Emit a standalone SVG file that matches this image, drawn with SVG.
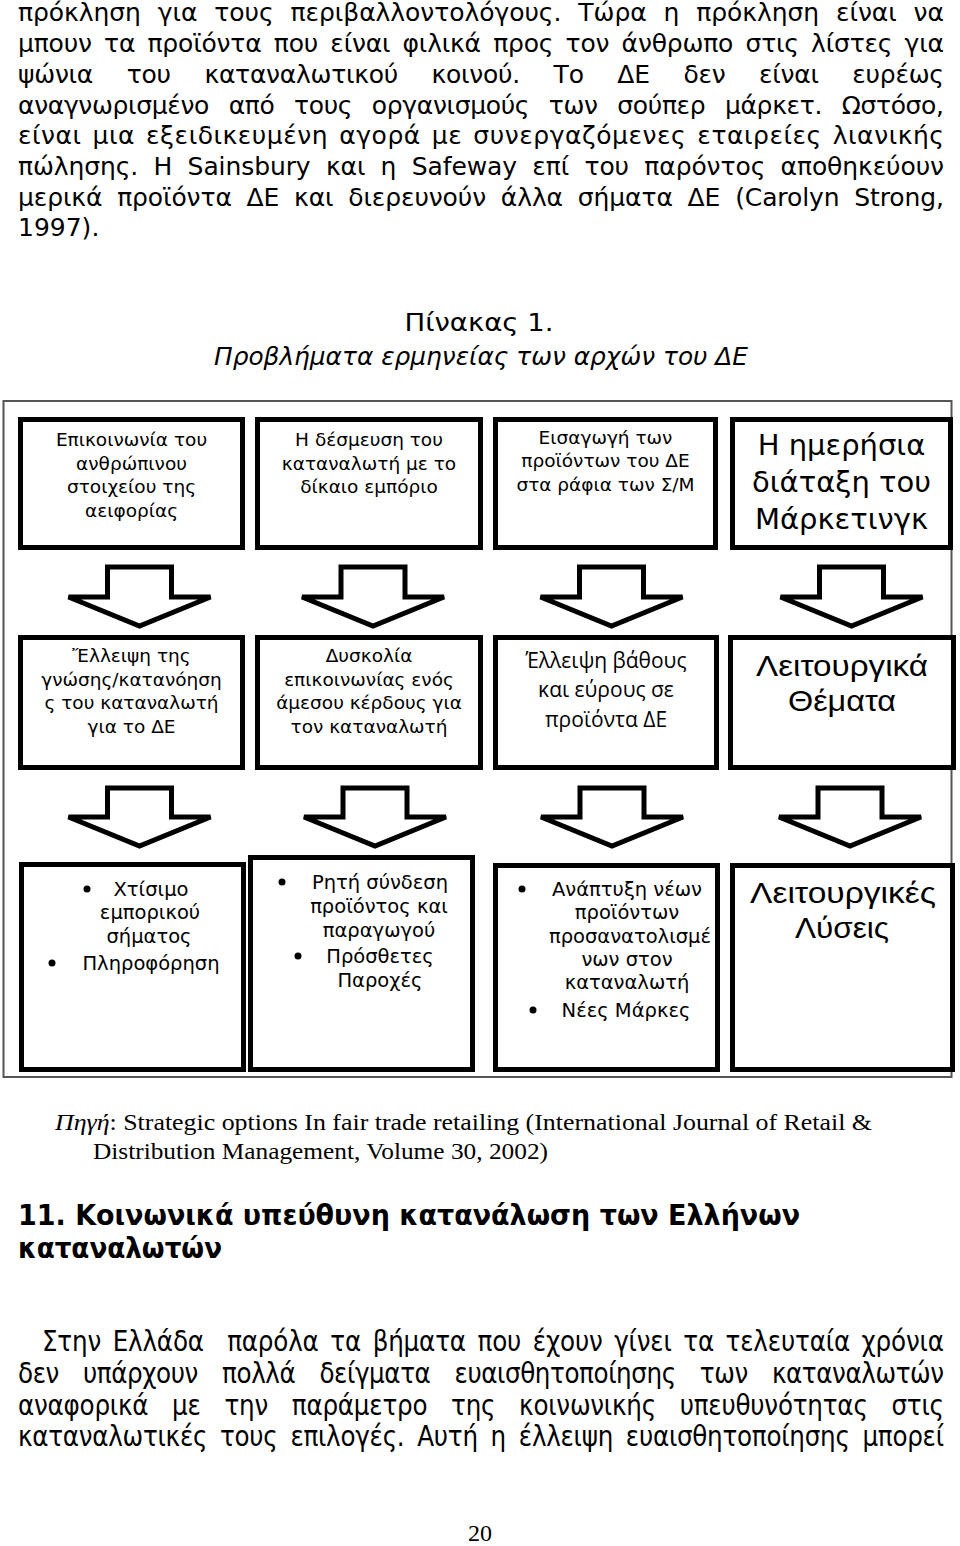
<svg xmlns="http://www.w3.org/2000/svg" width="960" height="1546" viewBox="0 0 960 1546">
<style>
.p{font-family:"DejaVu Sans",Verdana,sans-serif;font-size:25px;fill:#000}
.t{font-family:"DejaVu Sans",Verdana,sans-serif;font-size:24px;fill:#000;text-anchor:middle}
.b{font-family:"DejaVu Sans",Verdana,sans-serif;font-size:18.5px;fill:#000;text-anchor:middle}
.b3{font-family:"DejaVu Sans",Verdana,sans-serif;font-size:19.5px;fill:#000;text-anchor:middle}
.bl{font-family:"DejaVu Sans",Verdana,sans-serif;font-size:29px;fill:#000;text-anchor:middle}
.c{font-family:"Open Sans","Noto Sans",sans-serif;font-size:21px;fill:#000;text-anchor:middle}
.cl{font-family:"Liberation Sans",Arial,sans-serif;font-size:30px;fill:#000;text-anchor:middle}
.s{font-family:"Liberation Serif","Times New Roman",serif;font-size:23px;fill:#000}
.h{font-family:"DejaVu Sans",Verdana,sans-serif;font-size:28px;font-weight:bold;fill:#000}
.q{font-family:"DejaVu Sans",Verdana,sans-serif;font-size:28px;fill:#000}
.box{fill:#fff;stroke:#000;stroke-width:5}
.arr{fill:#fff;stroke:#000;stroke-width:5;stroke-linejoin:miter}
.frame{fill:none;stroke:#555;stroke-width:2}
.dot{fill:#000}
</style>
<rect width="960" height="1546" fill="#fff"/>

<g id="intro-text">
<text class="p" x="18" y="21" word-spacing="9" textLength="926" lengthAdjust="spacing">πρόκληση για τους περιβαλλοντολόγους. Τώρα η πρόκληση είναι να</text>
<text class="p" x="18" y="52" word-spacing="4.5" textLength="926" lengthAdjust="spacing">μπουν τα προϊόντα που είναι φιλικά προς τον άνθρωπο στις λίστες για</text>
<text class="p" x="18" y="83" word-spacing="26" textLength="926" lengthAdjust="spacing">ψώνια του καταναλωτικού κοινού. Το ΔΕ δεν είναι ευρέως</text>
<text class="p" x="18" y="114" word-spacing="12" textLength="926" lengthAdjust="spacing">αναγνωρισμένο από τους οργανισμούς των σούπερ μάρκετ. Ωστόσο,</text>
<text class="p" x="18" y="144" word-spacing="2.5" textLength="926" lengthAdjust="spacing">είναι μια εξειδικευμένη αγορά με συνεργαζόμενες εταιρείες λιανικής</text>
<text class="p" x="18" y="175" word-spacing="7.5" textLength="926" lengthAdjust="spacing">πώλησης. Η Sainsbury και η Safeway επί του παρόντος αποθηκεύουν</text>
<text class="p" x="18" y="206" word-spacing="7" textLength="926" lengthAdjust="spacing">μερικά προϊόντα ΔΕ και διερευνούν άλλα σήματα ΔΕ (Carolyn Strong,</text>
<text class="p" x="18" y="236">1997).</text>
</g>

<g id="table-title">
<text class="t" x="479" y="331" textLength="149" lengthAdjust="spacingAndGlyphs">Πίνακας 1.</text>
<text class="t" x="481" y="365" font-style="italic" textLength="534" lengthAdjust="spacingAndGlyphs">Προβλήματα ερμηνείας των αρχών του ΔΕ</text>
</g>

<rect id="frame" class="frame" x="3.5" y="401" width="948" height="676"/>

<g id="connectors">
<polygon class="arr" points="107.5,567 171.5,567 171.5,597 210.5,597 139.5,626 68.5,597 107.5,597"/>
<polygon class="arr" points="341,567 405,567 405,597 444,597 373,626 302,597 341,597"/>
<polygon class="arr" points="579.5,567 643.5,567 643.5,597 682.5,597 611.5,626 540.5,597 579.5,597"/>
<polygon class="arr" points="819.5,567 883.5,567 883.5,597 922.5,597 851.5,626 780.5,597 819.5,597"/>
<polygon class="arr" points="107.5,788 171.5,788 171.5,817 210.5,817 139.5,846 68.5,817 107.5,817"/>
<polygon class="arr" points="343,788 407,788 407,817 446,817 375,846 304,817 343,817"/>
<polygon class="arr" points="580,788 644,788 644,817 683,817 612,846 541,817 580,817"/>
<polygon class="arr" points="818,788 882,788 882,817 921,817 850,846 779,817 818,817"/>
</g>

<g id="n-r1c1">
<rect class="box" x="20.5" y="419.5" width="222" height="128"/>
<text class="b" x="131.5" y="446">Επικοινωνία του</text>
<text class="b" x="131.5" y="470">ανθρώπινου</text>
<text class="b" x="131.5" y="493">στοιχείου της</text>
<text class="b" x="131.5" y="517">αειφορίας</text>
</g>
<g id="n-r1c2">
<rect class="box" x="257.5" y="419.5" width="223" height="128"/>
<text class="b" x="369" y="446">Η δέσμευση του</text>
<text class="b" x="369" y="470">καταναλωτή με το</text>
<text class="b" x="369" y="493">δίκαιο εμπόριο</text>
</g>
<g id="n-r1c3">
<rect class="box" x="495.5" y="419.5" width="220" height="128"/>
<text class="b" x="605.5" y="444">Εισαγωγή των</text>
<text class="b" x="605.5" y="467">προϊόντων του ΔΕ</text>
<text class="b" x="605.5" y="491">στα ράφια των Σ/Μ</text>
</g>
<g id="n-r1c4">
<rect class="box" x="732.5" y="419.5" width="218" height="128"/>
<text class="bl" x="841.5" y="455">Η ημερήσια</text>
<text class="bl" x="841.5" y="492">διάταξη του</text>
<text class="bl" x="841.5" y="529">Μάρκετινγκ</text>
</g>

<g id="n-r2c1">
<rect class="box" x="20.5" y="637.5" width="222" height="130"/>
<text class="b" x="131.5" y="662">Ἔλλειψη της</text>
<text class="b" x="131.5" y="686">γνώσης/κατανόηση</text>
<text class="b" x="131.5" y="709">ς του καταναλωτή</text>
<text class="b" x="131.5" y="733">για το ΔΕ</text>
</g>
<g id="n-r2c2">
<rect class="box" x="257.5" y="637.5" width="223" height="130"/>
<text class="b" x="369" y="662">Δυσκολία</text>
<text class="b" x="369" y="686">επικοινωνίας ενός</text>
<text class="b" x="369" y="709">άμεσου κέρδους για</text>
<text class="b" x="369" y="733">τον καταναλωτή</text>
</g>
<g id="n-r2c3">
<rect class="box" x="495.5" y="637.5" width="221" height="130"/>
<text class="c" x="606" y="668">Έλλειψη βάθους</text>
<text class="c" x="606" y="697">και εύρους σε</text>
<text class="c" x="606" y="727">προϊόντα ΔΕ</text>
</g>
<g id="n-r2c4">
<rect class="box" x="730.5" y="637.5" width="223" height="130"/>
<text class="cl" x="842" y="676" textLength="172" lengthAdjust="spacingAndGlyphs">Λειτουργικά</text>
<text class="cl" x="842" y="711" textLength="108" lengthAdjust="spacingAndGlyphs">Θέματα</text>
</g>

<g id="n-r3c1">
<rect class="box" x="21.5" y="864.5" width="222" height="205"/>
<circle class="dot" cx="87" cy="889" r="3.5"/>
<text class="b3" x="151" y="896">Χτίσιμο</text>
<text class="b3" x="150" y="919">εμπορικού</text>
<text class="b3" x="149" y="943">σήματος</text>
<circle class="dot" cx="52" cy="963" r="3.5"/>
<text class="b3" x="151" y="970">Πληροφόρηση</text>
</g>
<g id="n-r3c2">
<rect class="box" x="250.5" y="857.5" width="222" height="212"/>
<circle class="dot" cx="282" cy="882" r="3.5"/>
<text class="b3" x="380" y="889">Ρητή σύνδεση</text>
<text class="b3" x="379" y="913">προϊόντος και</text>
<text class="b3" x="379" y="937">παραγωγού</text>
<circle class="dot" cx="298" cy="956" r="3.5"/>
<text class="b3" x="380" y="963">Πρόσθετες</text>
<text class="b3" x="380" y="987">Παροχές</text>
</g>
<g id="n-r3c3">
<rect class="box" x="495.5" y="865.5" width="222" height="204"/>
<circle class="dot" cx="522" cy="889" r="3.5"/>
<text class="b3" x="627" y="896">Ανάπτυξη νέων</text>
<text class="b3" x="627" y="919">προϊόντων</text>
<text class="b3" x="630" y="943">προσανατολισμέ</text>
<text class="b3" x="627" y="966">νων στον</text>
<text class="b3" x="627" y="989">καταναλωτή</text>
<circle class="dot" cx="533" cy="1010" r="3.5"/>
<text class="b3" x="626" y="1017">Νέες Μάρκες</text>
</g>
<g id="n-r3c4">
<rect class="box" x="732.5" y="865.5" width="220" height="204"/>
<text class="cl" x="843" y="903" textLength="186" lengthAdjust="spacingAndGlyphs">Λειτουργικές</text>
<text class="cl" x="842" y="938" textLength="94" lengthAdjust="spacingAndGlyphs">Λύσεις</text>
</g>

<g id="source">
<text class="s" x="55" y="1130" textLength="817" lengthAdjust="spacingAndGlyphs"><tspan font-style="italic">Πηγή</tspan>: Strategic options In fair trade retailing (International Journal of Retail &amp;</text>
<text class="s" x="93" y="1159" textLength="455" lengthAdjust="spacingAndGlyphs">Distribution Management, Volume 30, 2002)</text>
</g>

<g id="heading">
<text class="h" x="18" y="1225" textLength="782" lengthAdjust="spacingAndGlyphs">11. Κοινωνικά υπεύθυνη κατανάλωση των Ελλήνων</text>
<text class="h" x="18" y="1258" textLength="204" lengthAdjust="spacingAndGlyphs">καταναλωτών</text>
</g>

<g id="body-text" transform="scale(0.88,1)">
<text class="q" x="47.7" y="1351" xml:space="preserve" word-spacing="4.5" textLength="1025" lengthAdjust="spacing">Στην Ελλάδα  παρόλα τα βήματα που έχουν γίνει τα τελευταία χρόνια</text>
<text class="q" x="20.45" y="1383" word-spacing="19" textLength="1052.3" lengthAdjust="spacing">δεν υπάρχουν πολλά δείγματα ευαισθητοποίησης των καταναλωτών</text>
<text class="q" x="20.45" y="1415" word-spacing="18.4" textLength="1052.3" lengthAdjust="spacing">αναφορικά με την παράμετρο της κοινωνικής υπευθυνότητας στις</text>
<text class="q" x="20.45" y="1446" word-spacing="6" textLength="1052.3" lengthAdjust="spacing">καταναλωτικές τους επιλογές. Αυτή η έλλειψη ευαισθητοποίησης μπορεί</text>
</g>

<text id="page-number" x="480" y="1541" font-family="Liberation Serif, serif" font-size="24" text-anchor="middle">20</text>
</svg>
